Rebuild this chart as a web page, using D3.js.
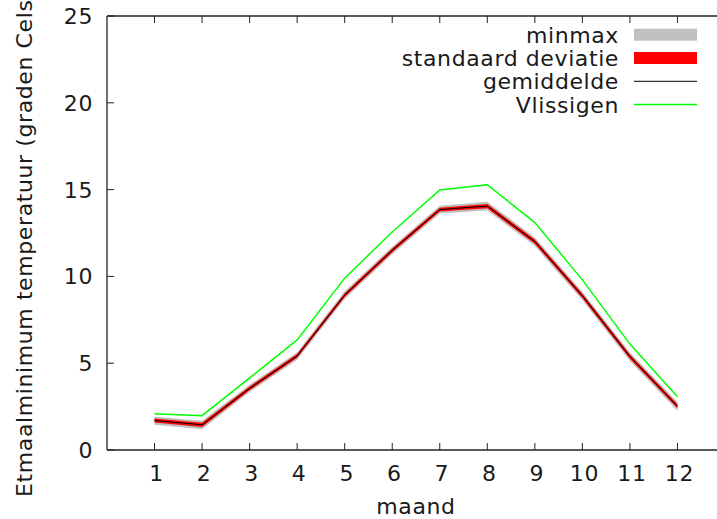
<!DOCTYPE html>
<html>
<head>
<meta charset="utf-8">
<script src="https://cdn.jsdelivr.net/npm/d3@7"></script>
<style>
  body { margin: 0; background: #fff; }
  svg { display: block; font-family: "DejaVu Sans", sans-serif; }
</style>
</head>
<body>
<div id="chart"></div>
<script>
// maanden en waarden
const months = [1, 2, 3, 4, 5, 6, 7, 8, 9, 10, 11, 12];
const gemiddelde = [1.70, 1.45, 3.55, 5.42, 8.92, 11.50, 13.85, 14.05, 12.00, 8.88, 5.38, 2.52];
const sdLaag = [1.58, 1.33, 3.44, 5.31, 8.81, 11.39, 13.74, 13.93, 11.88, 8.76, 5.26, 2.40];
const sdHoog = [1.82, 1.57, 3.66, 5.53, 9.03, 11.61, 13.96, 14.17, 12.12, 9.00, 5.50, 2.64];
const minWaarde = [1.46, 1.20, 3.34, 5.20, 8.70, 11.28, 13.62, 13.80, 11.75, 8.62, 5.12, 2.26];
const maxWaarde = [1.92, 1.68, 3.76, 5.63, 9.14, 11.71, 14.07, 14.30, 12.24, 9.12, 5.62, 2.76];
const vlissingen = [2.09, 1.98, 4.15, 6.34, 9.90, 12.56, 14.98, 15.28, 13.10, 9.80, 6.10, 3.07];
const yTicks = [0, 5, 10, 15, 20, 25];
const legendItems = [
  { label: "minmax", type: "box", color: "#c0c0c0" },
  { label: "standaard deviatie", type: "box", color: "#ff0000" },
  { label: "gemiddelde", type: "line", color: "#000000", width: 1 },
  { label: "Vlissigen", type: "line", color: "#00ff00", width: 1.5 }
];

//---------------------------------------------------------------------------------------

// canevas
const width = 717, height = 519;
const plot = { left: 107, top: 16, bottom: 450 };

const svg = d3.select("#chart")
  .append("svg")
  .attr("width", width)
  .attr("height", height);

const x = d3.scaleLinear().domain([0, 13]).range([plot.left, 725]);
const y = d3.scaleLinear().domain([0, 25]).range([plot.bottom, plot.top]);

const data = months.map((m, i) => ({
  m,
  mean: gemiddelde[i],
  sdLo: sdLaag[i], sdHi: sdHoog[i],
  min: minWaarde[i], max: maxWaarde[i],
  vl: vlissingen[i]
}));

//---------------------------------------------------------------------------------------

// banden en lijnen
const band = (lo, hi) => d3.area().x(d => x(d.m)).y0(d => y(d[lo])).y1(d => y(d[hi]));
const line = key => d3.line().x(d => x(d.m)).y(d => y(d[key]));

svg.append("path")
  .attr("d", band("min", "max")(data))
  .attr("fill", "#c0c0c0");

svg.append("path")
  .attr("d", band("sdLo", "sdHi")(data))
  .attr("fill", "#ff0000");

svg.append("path")
  .attr("d", line("mean")(data))
  .attr("fill", "none")
  .attr("stroke", "#000")
  .attr("stroke-width", 1);

svg.append("path")
  .attr("d", line("vl")(data))
  .attr("fill", "none")
  .attr("stroke", "#00ff00")
  .attr("stroke-width", 1.5);

//---------------------------------------------------------------------------------------

// assen (gnuplot-stijl: ticks naar binnen, gespiegeld bovenaan)
const axisColor = "#222";
const tickLen = 7;

const frame = svg.append("g")
  .attr("stroke", axisColor)
  .attr("stroke-width", 1.3)
  .attr("fill", "none");

frame.append("line").attr("x1", plot.left).attr("x2", width).attr("y1", plot.bottom).attr("y2", plot.bottom);
frame.append("line").attr("x1", plot.left).attr("x2", width).attr("y1", plot.top).attr("y2", plot.top);
frame.append("line").attr("x1", plot.left).attr("x2", plot.left).attr("y1", plot.top).attr("y2", plot.bottom);

months.forEach(m => {
  frame.append("line").attr("x1", x(m)).attr("x2", x(m)).attr("y1", plot.bottom).attr("y2", plot.bottom - tickLen).attr("stroke-width", 1);
  frame.append("line").attr("x1", x(m)).attr("x2", x(m)).attr("y1", plot.top).attr("y2", plot.top + tickLen).attr("stroke-width", 1);
});
yTicks.forEach(t => {
  frame.append("line").attr("x1", plot.left).attr("x2", plot.left + tickLen).attr("y1", y(t)).attr("y2", y(t)).attr("stroke-width", 1);
});

const txt = svg.append("g")
  .attr("fill", "#1a1a1a")
  .attr("font-size", 22)
  .attr("letter-spacing", 0.6);

txt.selectAll(".xt")
  .data(months)
  .join("text")
  .attr("x", d => x(d) + 2)
  .attr("y", 481)
  .attr("text-anchor", "middle")
  .text(d => d);

txt.selectAll(".yt")
  .data(yTicks)
  .join("text")
  .attr("x", 93)
  .attr("y", d => y(d))
  .attr("dy", "0.36em")
  .attr("text-anchor", "end")
  .text(d => d);

txt.append("text")
  .attr("x", (plot.left + 725) / 2)
  .attr("y", 514)
  .attr("text-anchor", "middle")
  .text("maand");

// de titel loopt, net als in het origineel, boven de rand door
txt.append("text")
  .attr("transform", `translate(32, 227) rotate(-90)`)
  .attr("text-anchor", "middle")
  .text("Etmaalminimum temperatuur (graden Celsius)");

//---------------------------------------------------------------------------------------

// legende
const leg = svg.append("g");
legendItems.forEach((d, i) => {
  const cy = 34.7 + i * 23.3;
  leg.append("text")
    .attr("x", 619)
    .attr("y", cy)
    .attr("dy", "0.36em")
    .attr("text-anchor", "end")
    .attr("font-size", 22)
    .attr("letter-spacing", 0.6)
    .attr("fill", "#1a1a1a")
    .text(d.label);
  if (d.type === "box") {
    leg.append("rect")
      .attr("x", 634).attr("y", cy - 6)
      .attr("width", 63).attr("height", 12)
      .attr("fill", d.color);
  } else {
    leg.append("line")
      .attr("x1", 634).attr("x2", 697)
      .attr("y1", cy).attr("y2", cy)
      .attr("stroke", d.color)
      .attr("stroke-width", d.width);
  }
});
</script>
</body>
</html>
